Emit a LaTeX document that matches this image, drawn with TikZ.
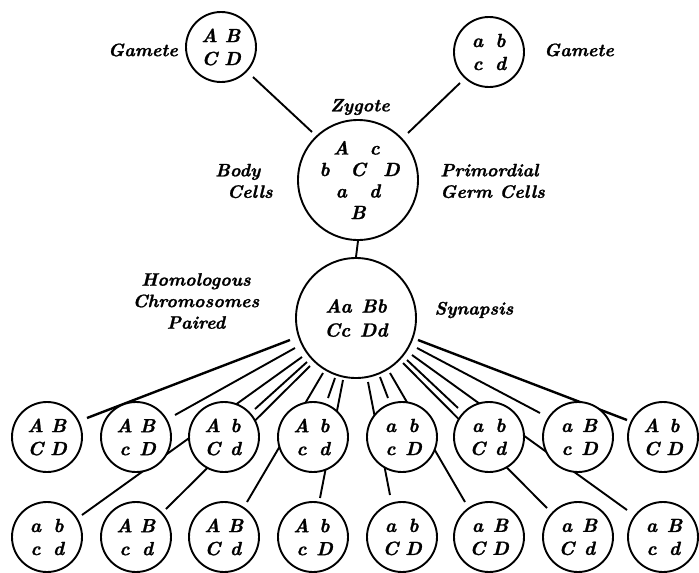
\documentclass[tikz,border=0pt]{standalone}
\usepackage{fontspec}
\usetikzlibrary{calc}
\pgfdeclarelayer{bg}
\pgfsetlayers{bg,main}
\newfontface\labface{lmroman10-bolditalic.otf}[FakeBold=1.2]
\newcommand\lab{\fontsize{18}{21.5}\selectfont\labface}
\newcommand\cel{\fontsize{19}{22}\selectfont\labface}
\newcommand\gc[1]{\makebox[23pt]{#1}}
\newcommand\zc[1]{\makebox[16.7pt]{#1}}
\tikzset{
  cell/.style={circle,draw,line width=1.9pt,fill=white,minimum size=70pt,inner sep=0pt,align=center,font=\cel},
  bigcell/.style={cell,minimum size=120pt},
  lbl/.style={inner sep=0pt,font=\lab},
  conn/.style={line width=1.9pt},
  heavy/.style={line width=2.4pt},
}
\begin{document}
\begin{tikzpicture}[x=1pt,y=-1pt]
\useasboundingbox (0,0) rectangle (699,573);
% labels
\node[lbl] (gl) at (143,50) {Gamete};
\node[lbl] (gr) at (579,50) {Gamete};
\node[lbl] (zl) at (360,107) {Zygote};
\node[lbl,align=left,anchor=west] (bc) at (215,181) {Body\\\hspace*{12pt}Cells};
\node[lbl,align=left,anchor=west] (pg) at (440,181) {Primordial\\Germ Cells};
\node[lbl,align=center] (hc) at (196,301) {Homologous\\Chromosomes\\Paired};
\node[lbl] (sy) at (474,310) {Synapsis};
% gametes, zygote, synapsis
\node[cell] (g1) at (221,47) {\gc{A}\gc{B}\\[1pt]\gc{C}\gc{D}};
\node[cell] (g2) at (489,52) {\gc{a}\gc{b}\\[1pt]\gc{c}\gc{d}};
\node[bigcell] (zy) at (358,180) {\zc{}\zc{A}\zc{}\zc{c}\zc{}\\[-0.5pt]\zc{b}\zc{}\zc{C}\zc{}\zc{D}\\[-0.5pt]\zc{}\zc{a}\zc{}\zc{d}\zc{}\\[-0.5pt]\zc{}\zc{}\zc{B}\zc{}\zc{}};
\node[bigcell] (sn) at (356,318) {Aa\enspace Bb\\[2pt]Cc\enspace Dd};
% top row
\node[cell] (t1) at (47,437) {\gc{A}\gc{B}\\[1pt]\gc{C}\gc{D}};
\node[cell] (t2) at (136,437) {\gc{A}\gc{B}\\[1pt]\gc{c}\gc{D}};
\node[cell] (t3) at (224,437) {\gc{A}\gc{b}\\[1pt]\gc{C}\gc{d}};
\node[cell] (t4) at (313,437) {\gc{A}\gc{b}\\[1pt]\gc{c}\gc{d}};
\node[cell] (t5) at (402,437) {\gc{a}\gc{b}\\[1pt]\gc{c}\gc{D}};
\node[cell] (t6) at (489,437) {\gc{a}\gc{b}\\[1pt]\gc{C}\gc{d}};
\node[cell] (t7) at (578,437) {\gc{a}\gc{B}\\[1pt]\gc{c}\gc{D}};
\node[cell] (t8) at (663,437) {\gc{A}\gc{b}\\[1pt]\gc{C}\gc{D}};
% bottom row
\node[cell] (b1) at (47,537) {\gc{a}\gc{b}\\[1pt]\gc{c}\gc{d}};
\node[cell] (b2) at (136,537) {\gc{A}\gc{B}\\[1pt]\gc{c}\gc{d}};
\node[cell] (b3) at (224,537) {\gc{A}\gc{B}\\[1pt]\gc{C}\gc{d}};
\node[cell] (b4) at (313,537) {\gc{A}\gc{b}\\[1pt]\gc{c}\gc{D}};
\node[cell] (b5) at (402,537) {\gc{a}\gc{b}\\[1pt]\gc{C}\gc{D}};
\node[cell] (b6) at (489,537) {\gc{a}\gc{B}\\[1pt]\gc{C}\gc{D}};
\node[cell] (b7) at (578,537) {\gc{a}\gc{B}\\[1pt]\gc{C}\gc{d}};
\node[cell] (b8) at (663,537) {\gc{a}\gc{B}\\[1pt]\gc{c}\gc{d}};
% connectors behind the cells
\begin{pgfonlayer}{bg}
\draw[conn] ($(g1)+(32,30)$) -- ($(zy)+(-46,-48)$);
\draw[conn] ($(g2)+(-29,31)$) -- ($(zy)+(50,-47)$);
\draw[conn] (zy.south) -- (sn.north);
\draw[heavy] ($(sn)+(-66,22)$) -- ($(t1)+(40,-19)$);
\draw[conn] ($(sn)+(-61,30)$) -- ($(t2)+(39,-22)$);
\draw[conn] ($(sn)+(-54,39)$) -- ($(b1)+(35,-22)$);
\draw[conn] ($(sn)+(-49,44)$) -- ($(t3)+(31,-28)$);
\draw[conn] ($(sn)+(-46,48)$) -- ($(b2)+(30,-28)$);
\draw[conn] ($(sn)+(-33,55)$) -- ($(b3)+(23,-35)$);
\draw[conn] ($(sn)+(-21,60)$) -- ($(t4)+(15,-39)$);
\draw[conn] ($(sn)+(-13,62)$) -- ($(b4)+(7,-39)$);
\draw[conn] ($(sn)+(12,64)$) -- ($(b5)+(-12,-42)$);
\draw[conn] ($(sn)+(24,59)$) -- ($(t5)+(-14,-39)$);
\draw[conn] ($(sn)+(34,55)$) -- ($(b6)+(-24,-35)$);
\draw[conn] ($(sn)+(47,45)$) -- ($(b7)+(-31,-29)$);
\draw[conn] ($(sn)+(51,42)$) -- ($(t6)+(-31,-29)$);
\draw[conn] ($(sn)+(56,37)$) -- ($(b8)+(-36,-27)$);
\draw[conn] ($(sn)+(61,30)$) -- ($(t7)+(-38,-24)$);
\draw[heavy] ($(sn)+(62,22)$) -- ($(t8)+(-36,-17)$);
\end{pgfonlayer}
\end{tikzpicture}
\end{document}
